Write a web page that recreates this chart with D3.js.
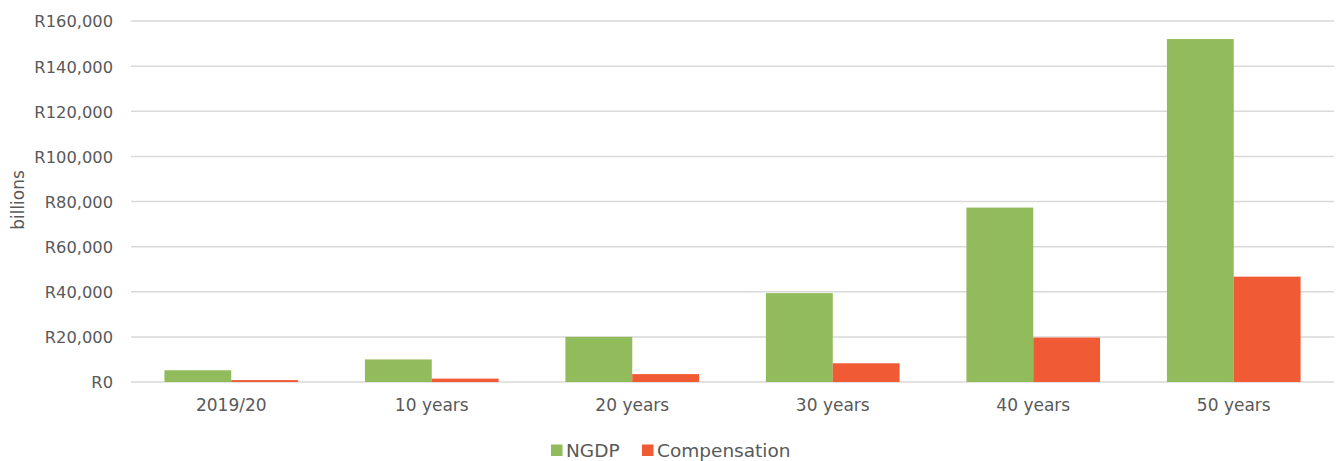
<!DOCTYPE html>
<html>
<head>
<meta charset="utf-8">
<script src="https://cdn.jsdelivr.net/npm/d3@7"></script>
<style>
  html, body { margin: 0; padding: 0; background: #fff; }
  svg { display: block; }
  text { font-family: "DejaVu Sans", sans-serif; fill: #595959; }
</style>
</head>
<body>
<svg id="chart" width="1336" height="461"></svg>
<script>
const categories = ["2019/20", "10 years", "20 years", "30 years", "40 years", "50 years"];
const seriesNames = ["NGDP", "Compensation"];
const ngdp = [5200, 10000, 20000, 39400, 77300, 152000];
const compensation = [850, 1500, 3500, 8300, 19700, 46700];
const yTicks = [0, 20000, 40000, 60000, 80000, 100000, 120000, 140000, 160000];
const colors = ["#92BB5C", "#F05A35"];
const yLabel = "billions";

const svg = d3.select("#chart");
const mLeft = 131, mRight = 1334, mTop = 21, mBottom = 382;

const x = d3.scaleBand().domain(categories).range([mLeft, mRight])
  .paddingInner(1/3).paddingOuter(1/6);
const xs = d3.scaleBand().domain(seriesNames).range([0, x.bandwidth()]);
const y = d3.scaleLinear().domain([0, 160000]).range([mBottom, mTop]);

const fmt = v => "R" + d3.format(",")(v);

// gridlines
svg.append("g")
  .selectAll("line").data(yTicks).join("line")
  .attr("x1", mLeft).attr("x2", mRight)
  .attr("y1", d => y(d)).attr("y2", d => y(d))
  .attr("stroke", "#D9D9D9").attr("stroke-width", 1.5);

// y tick labels
const yAxis = d3.axisLeft(y).tickValues(yTicks).tickFormat(fmt).tickSize(0).tickPadding(18);
const ya = svg.append("g").attr("transform", `translate(${mLeft},0)`).call(yAxis);
ya.select(".domain").remove();
ya.selectAll("text").style("font-family", '"DejaVu Sans", sans-serif')
  .style("font-size", "16.3px").attr("fill", "#595959").attr("dy", "0.36em");

// bars
const data = [ngdp, compensation];
const g = svg.append("g");
categories.forEach((c, i) => {
  seriesNames.forEach((s, j) => {
    g.append("rect")
      .attr("x", x(c) + xs(s))
      .attr("y", y(data[j][i]))
      .attr("width", xs.bandwidth())
      .attr("height", y(0) - y(data[j][i]))
      .attr("fill", colors[j]);
  });
});

// x axis labels
const xAxis = d3.axisBottom(x).tickSize(0).tickPadding(17);
const xa = svg.append("g").attr("transform", `translate(0,${mBottom})`).call(xAxis);
xa.select(".domain").remove();
xa.selectAll("text").style("font-family", '"DejaVu Sans", sans-serif')
  .style("font-size", "17px").attr("fill", "#595959");

// y label
svg.append("text")
  .attr("transform", "translate(24,200) rotate(-90)")
  .attr("text-anchor", "middle")
  .style("font-size", "17px")
  .text(yLabel);

// legend
const legendItems = [
  { name: seriesNames[0], color: colors[0], x: 551 },
  { name: seriesNames[1], color: colors[1], x: 642 }
];
const lg = svg.append("g");
legendItems.forEach(d => {
  lg.append("rect").attr("x", d.x).attr("y", 444.5).attr("width", 11.5).attr("height", 11.5).attr("fill", d.color);
  lg.append("text").attr("x", d.x + 15).attr("y", 456.5).style("font-size", "18.5px").text(d.name);
});
</script>
</body>
</html>
